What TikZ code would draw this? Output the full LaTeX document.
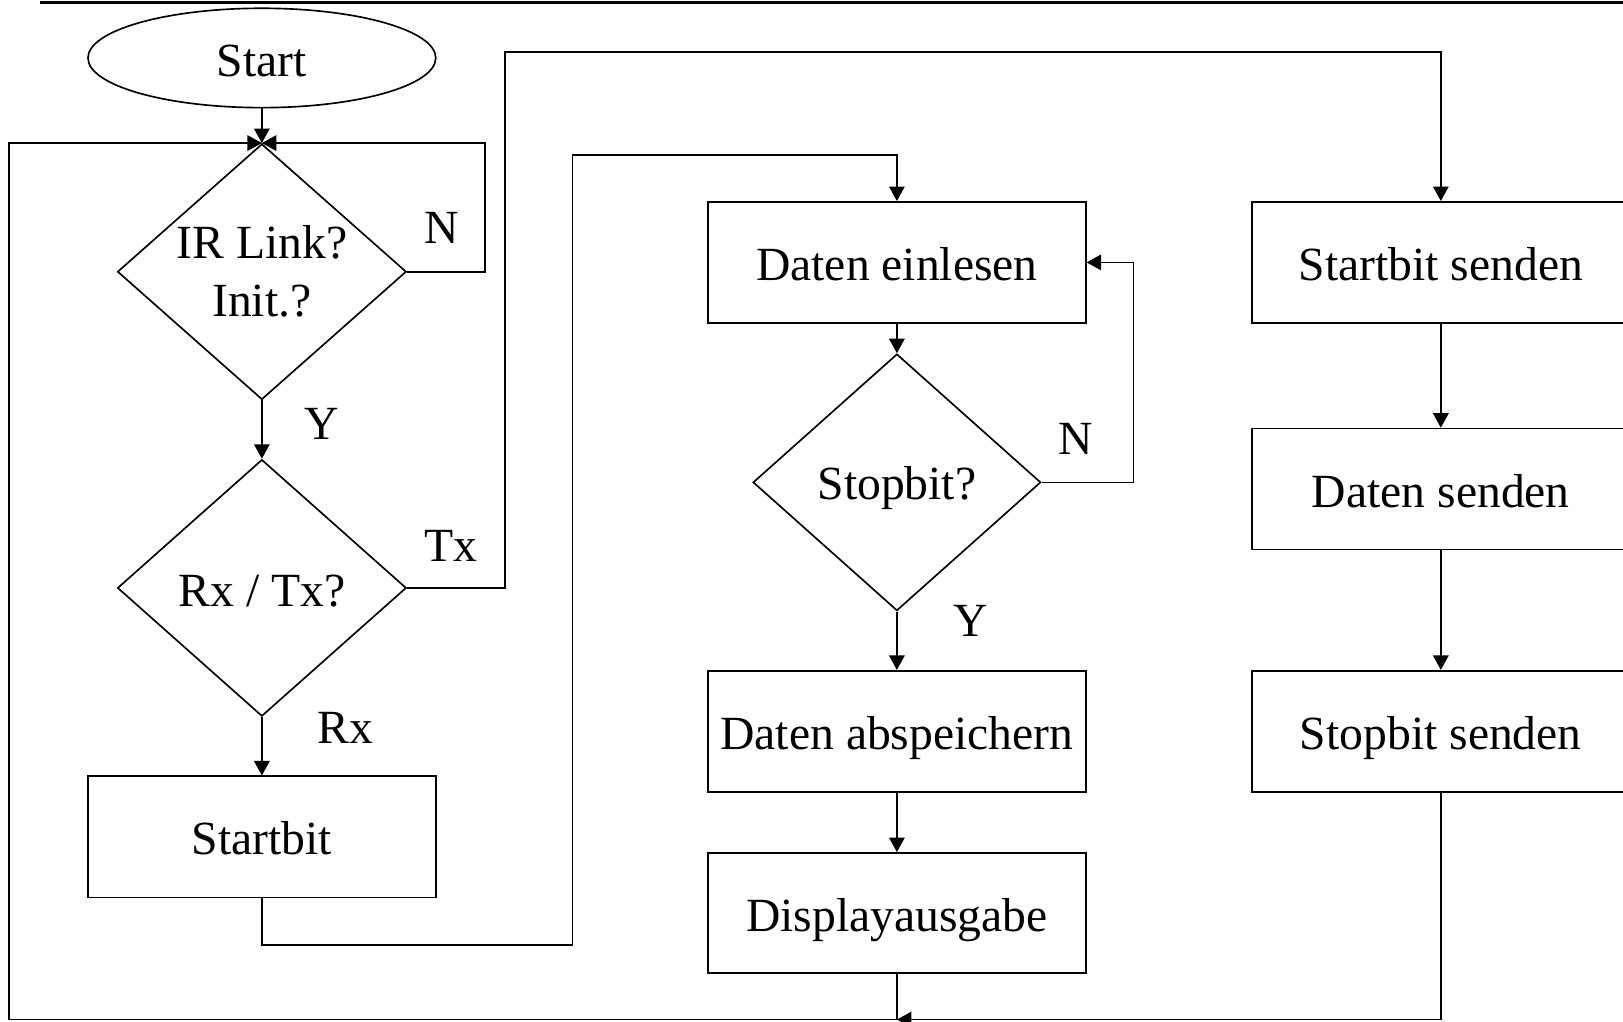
\documentclass[tikz,border=0pt]{standalone}
\usepackage{fontspec}
\setmainfont{Liberation Serif}
\usetikzlibrary{shapes.geometric,arrows.meta}
\begin{document}
\begin{tikzpicture}[x=1pt,y=-1pt,line width=1.6pt,
  fnt/.style={font=\fontsize{46}{56}\selectfont},
  box/.style={draw,rectangle,minimum width=365pt,minimum height=117pt,inner sep=0pt,text height=40.5pt,text depth=5.5pt,fnt},
  dia/.style={draw,diamond,minimum width=279pt,minimum height=247pt,inner sep=0pt},
  lbl/.style={inner sep=0pt,fnt},
  arr/.style={-{Triangle[length=14pt,width=15pt]}}]
\useasboundingbox (0,0) rectangle (1568,987);
\fill[white] (0,0) rectangle (1568,987);
\clip (0,0) rectangle (1568,987);
% top rule
\draw[line width=3pt] (39,2.4) -- (1575,2.4);
% nodes
\node[draw,ellipse,minimum width=336pt,minimum height=96pt,inner sep=0pt,text height=40.5pt,text depth=5.5pt,fnt] (start) at (253,56) {Start};
\node[dia] (d1) at (253,262.5) {};
\node[lbl,anchor=base] (t1a) at (253,249.5) {IR Link?};
\node[lbl,anchor=base] (t1b) at (253,305.7) {Init.?};
\node[dia,minimum height=248pt] (d2) at (253,568) {};
\node[lbl,anchor=base] (t2) at (253,586) {Rx / Tx?};
\node[box,minimum width=336pt] (sbit) at (253,808.5) {Startbit};
\node[box] (ein) at (866.5,253.5) {Daten einlesen};
\node[dia,minimum width=278pt,minimum height=248pt] (d3) at (866.5,466) {};
\node[lbl,anchor=base] (t3) at (866.5,483) {Stopbit?};
\node[box] (absp) at (866.5,706.5) {Daten abspeichern};
\node[box,minimum height=116pt] (disp) at (866.5,882) {Displayausgabe};
\node[box] (sbs) at (1392,253.5) {Startbit senden};
\node[box] (dsd) at (1392,472.5) {Daten senden};
\node[box] (sts) at (1392,706.5) {Stopbit senden};
% labels
\node[lbl] (n1) at (427,220) {N};
\node[lbl] (y1) at (311,410) {Y};
\node[lbl] (tx) at (436,527) {Tx};
\node[lbl] (rx) at (334,703) {Rx};
\node[lbl] (n2) at (1039,424.5) {N};
\node[lbl] (y2) at (938,600) {Y};
% helper coordinates
\coordinate (tA) at (488,50);
\coordinate (tB1) at (553,913);
\coordinate (tB2) at (553,150);
\coordinate (bj) at (866.5,985);
\coordinate (bl) at (9,985);
% connectors
\draw[arr] (start.south) -- (d1.north);
\draw[arr] (d1.east) -- ++(75,0) |- (d1.north);
\draw[arr] (d1.south) -- (d2.north);
\draw[arr] (d2.east) -| (tA) -| (sbs.north);
\draw[arr] (d2.south) -- (sbit.north);
\draw[arr] (sbit.south) |- (tB1) -- (tB2) -| (ein.north);
\draw[arr] (ein.south) -- (d3.north);
\draw[arr] (d3.east) -- (1095,466) |- (ein.east);
\draw[arr] (d3.south) -- (absp.north);
\draw[arr] (absp.south) -- (disp.north);
\draw[arr] (disp.south) -- (bj) -- (bl) |- (d1.north);
\draw[arr] (sbs.south) -- (dsd.north);
\draw[arr] (dsd.south) -- (sts.north);
\draw[arr] (sts.south) |- (bj);
\end{tikzpicture}
\end{document}
